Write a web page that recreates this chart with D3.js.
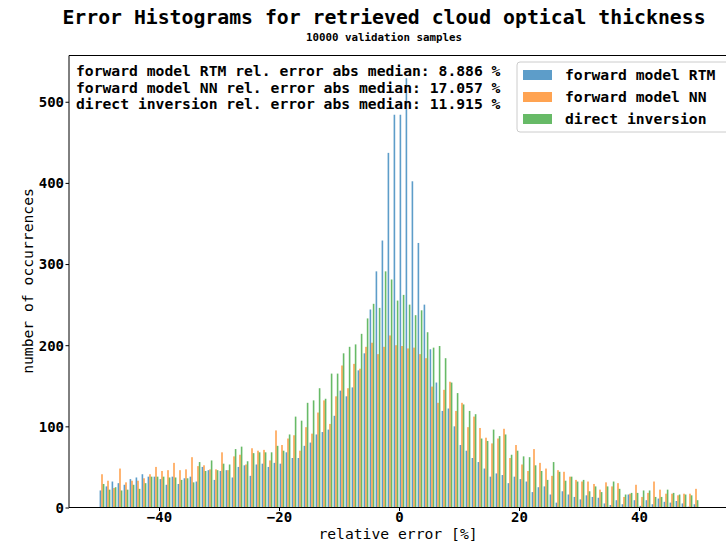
<!DOCTYPE html>
<html><head><meta charset="utf-8">
<script src="https://cdn.jsdelivr.net/npm/d3@7/dist/d3.min.js"></script>
<style>
body{margin:0;background:#fff;}
text{font-family:"DejaVu Sans Mono",monospace;}
</style>
</head><body>
<svg id="chart" width="726" height="542"></svg>
<script>
// bin left edges (bin width 1 %)
const binStarts = [-50,-49,-48,-47,-46,-45,-44,-43,-42,-41,-40,-39,-38,-37,-36,-35,-34,-33,-32,-31,
-30,-29,-28,-27,-26,-25,-24,-23,-22,-21,-20,-19,-18,-17,-16,-15,-14,-13,-12,-11,
-10,-9,-8,-7,-6,-5,-4,-3,-2,-1,0,1,2,3,4,5,6,7,8,9,
10,11,12,13,14,15,16,17,18,19,20,21,22,23,24,25,26,27,28,29,
30,31,32,33,34,35,36,37,38,39,40,41,42,43,44,45,46,47,48,49];
const binWidth = 1;

const seriesNames = ["forward model RTM", "forward model NN", "direct inversion"];

const rtmCounts = [21,26,32,30,28,35,37,41,38,38,35,28,38,29,36,38,32,50,46,34,
45,46,37,50,52,39,53,54,50,55,54,68,61,61,76,80,90,93,96,113,
144,137,148,169,190,244,291,329,437,484,484,529,402,326,250,195,154,119,122,100,
77,70,61,56,48,38,42,40,30,38,35,32,19,25,26,16,6,20,16,13,
10,15,13,12,5,3,9,4,16,9,2,9,4,11,7,6,8,5,1,4];

const nnCounts = [41,33,24,48,31,33,33,36,41,50,45,46,55,46,47,62,51,52,47,47,
68,46,63,65,53,73,70,71,58,95,77,85,89,70,99,91,117,132,103,137,
175,147,177,171,198,203,189,198,212,200,199,196,197,189,184,149,129,145,155,119,
129,99,112,98,86,79,85,97,61,77,53,45,72,55,48,39,46,44,38,34,
32,32,29,22,31,26,30,13,17,28,13,18,32,22,17,17,15,17,17,23];

const directCounts = [29,22,25,21,22,28,23,30,38,38,38,37,37,34,36,31,56,45,58,46,
54,53,72,75,57,67,68,68,68,76,70,90,112,107,129,132,147,134,165,165,
190,198,201,214,233,251,246,291,281,255,262,250,237,243,216,197,199,184,154,141,
127,119,115,85,82,96,88,90,65,70,63,62,52,45,34,56,44,33,38,32,
34,20,26,19,26,32,23,16,18,18,21,21,13,13,22,18,16,16,15,9];

const xTicks = [-40,-20,0,20,40];
const yTicks = [0,100,200,300,400,500];

const annotations = [
  "forward model RTM rel. error abs median: 8.886 %",
  "forward model NN rel. error abs median: 17.057 %",
  "direct inversion rel. error abs median: 11.915 %"
];
const colors = ["#1f77b4", "#ff7f0e", "#2ca02c"];

const svg = d3.select("#chart");
const L = 69, R = 729, T = 55.5, B = 507.5;
const x = d3.scaleLinear().domain([-55, 55]).range([L, R]);
const y = d3.scaleLinear().domain([0, 557]).range([B, T]);

svg.append("rect").attr("width",726).attr("height",542).attr("fill","#fff");

const allSeries = [rtmCounts, nnCounts, directCounts];
const sub = 0.8 * binWidth / 3;
allSeries.forEach((vals, k) => {
  svg.append("g").selectAll("rect").data(vals).join("rect")
    .attr("x", (d,i) => x(binStarts[i] + 0.1*binWidth + k*sub))
    .attr("width", x(sub) - x(0))
    .attr("y", d => y(d))
    .attr("height", d => y(0) - y(d))
    .attr("fill", colors[k])
    .attr("fill-opacity", 0.72);
});

// axes
const fmt = d => d < 0 ? "\u2212" + Math.abs(d) : String(d);
const gx = svg.append("g").attr("transform",`translate(0,${B})`)
  .call(d3.axisBottom(x).tickValues(xTicks).tickFormat(fmt).tickSize(3.5).tickPadding(1.2));
const gy = svg.append("g").attr("transform",`translate(${L},0)`)
  .call(d3.axisLeft(y).tickValues(yTicks).tickFormat(fmt).tickSize(3.5).tickPadding(1.5));
[gx, gy].forEach(g => {
  g.select(".domain").remove();
  g.selectAll("line").attr("stroke","#000").attr("stroke-width",1);
  g.selectAll("text").attr("font-family","DejaVu Sans Mono, monospace")
    .attr("font-size","14px").attr("font-weight","bold").attr("fill","#000");
});
gy.selectAll("text").attr("dy","0.35em");

// spines
svg.append("path").attr("d",`M${R},${T}H${L}V${B}H${R}`)
  .attr("fill","none").attr("stroke","#000").attr("stroke-width",1);

// titles
svg.append("text").attr("x",384).attr("y",24).attr("text-anchor","middle")
  .attr("font-size","19.8px").attr("font-weight","bold").text("Error Histograms for retrieved cloud optical thickness");
svg.append("text").attr("x",384).attr("y",41).attr("text-anchor","middle")
  .attr("font-size","10.8px").attr("font-weight","bold").text("10000 validation samples");

// axis labels
svg.append("text").attr("x",398).attr("y",539).attr("text-anchor","middle")
  .attr("font-size","14.7px").text("relative error [%]");
svg.append("text").attr("transform",`translate(33,281) rotate(-90)`).attr("text-anchor","middle")
  .attr("font-size","14.7px").text("number of occurrences");

// annotation
annotations.forEach((t,i) => {
  svg.append("text").attr("x",76).attr("y",76 + i*16.7)
    .attr("font-size","14.7px").attr("font-weight","bold").text(t);
});

// legend
const lg = svg.append("g");
lg.append("rect").attr("x",517).attr("y",62).attr("width",220).attr("height",70).attr("rx",3)
  .attr("fill","#fff").attr("fill-opacity",0.8).attr("stroke","#ccc").attr("stroke-width",1);
seriesNames.forEach((n,i) => {
  const cy = 75 + i*22;
  lg.append("rect").attr("x",523).attr("y",cy-5).attr("width",29).attr("height",10)
    .attr("fill",colors[i]).attr("fill-opacity",0.72);
  lg.append("text").attr("x",565).attr("y",cy+5)
    .attr("font-size","14.7px").attr("font-weight","bold").text(n);
});
</script>
</body></html>
